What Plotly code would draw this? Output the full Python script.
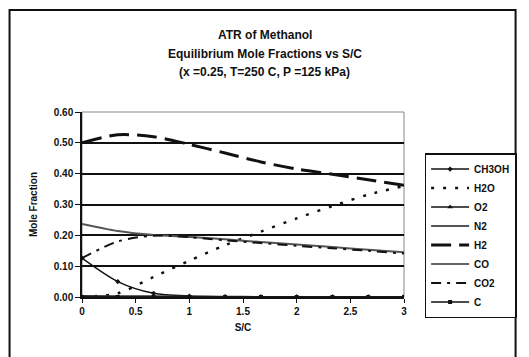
import plotly.graph_objects as go

# S/C ratio sample points
sc = [0, 0.333, 0.667, 1.0, 1.333, 1.667, 2.0, 2.333, 2.667, 3.0]

ch3oh = [0.126, 0.050, 0.012, 0.003, 0.001, 0.0005, 0.0003, 0.0002, 0.0001, 0.0001]
h2o   = [0.000, 0.012, 0.065, 0.118, 0.168, 0.212, 0.255, 0.295, 0.332, 0.360]
o2    = [0, 0, 0, 0, 0, 0, 0, 0, 0, 0]
n2    = [0.237, 0.214, 0.201, 0.195, 0.187, 0.178, 0.170, 0.162, 0.153, 0.145]
h2    = [0.500, 0.526, 0.520, 0.495, 0.467, 0.438, 0.415, 0.398, 0.380, 0.362]
co    = [0.004, 0.003, 0.003, 0.002, 0.002, 0.001, 0.001, 0.001, 0.001, 0.001]
co2   = [0.126, 0.180, 0.199, 0.194, 0.184, 0.175, 0.166, 0.158, 0.150, 0.141]
c     = [0, 0, 0, 0, 0, 0, 0, 0, 0, 0]

title_lines = ["ATR of Methanol",
               "Equilibrium Mole Fractions vs S/C",
               "(x =0.25, T=250 C, P =125 kPa)"]

FONT = "Liberation Sans, Arial, sans-serif"

fig = go.Figure()

def add(name, y, color, width, dash="solid", marker=None, msize=5):
    mode = "lines+markers" if marker else "lines"
    fig.add_trace(go.Scatter(
        x=sc, y=y, name=name, mode=mode,
        line=dict(color=color, width=width, dash=dash, shape="spline", smoothing=0.8),
        marker=dict(symbol=marker or "circle", size=msize, color=color),
    ))

add("CH3OH", ch3oh, "#111111", 1.5, marker="diamond", msize=4)
add("H2O", h2o, "#111111", 2.5, dash="3px,9px")
add("O2", o2, "#111111", 1.5, marker="triangle-up", msize=5)
add("N2", n2, "#555555", 2)
add("H2", h2, "#111111", 3, dash="20px,8px")
add("CO", co, "#333333", 1.5)
add("CO2", co2, "#111111", 2, dash="10px,6px,3px,6px")
add("C", c, "#111111", 1.5, marker="square", msize=4)

# plot area frame (gray) and outer chart border (black)
fig.add_shape(type="rect", xref="paper", yref="paper", x0=0, x1=1, y0=0, y1=1,
              line=dict(color="#888888", width=1), layer="below")
fig.add_shape(type="rect", xref="paper", yref="paper", x0=-0.225, x1=1.3465,
              y0=-0.36, y1=1.551, line=dict(color="#111111", width=2))

for i, (txt, yy) in enumerate(zip(title_lines, [1.416, 1.314, 1.214])):
    fig.add_annotation(text=txt, xref="paper", yref="paper", x=0.568, y=yy,
                       showarrow=False, xanchor="center", yanchor="middle",
                       font=dict(family=FONT, size=12, color="#111111", weight="bold"))

fig.update_layout(
    width=529, height=357,
    margin=dict(l=82, r=118, t=112, b=60),
    paper_bgcolor="white", plot_bgcolor="white",
    font=dict(family=FONT, size=10, color="#111111"),
    showlegend=True,
    legend=dict(x=1.064, y=0.778, xanchor="left", yanchor="top",
                bordercolor="#111111", borderwidth=1.5, bgcolor="white",
                font=dict(family=FONT, size=10, color="#111111", weight="bold"),
                itemwidth=38, tracegroupgap=0),
    xaxis=dict(range=[0, 3], dtick=0.5, showgrid=False, zeroline=False,
               showline=True, linecolor="#111111", linewidth=1.5,
               ticks="outside", ticklen=4, tickcolor="#111111",
               tickfont=dict(family=FONT, size=10, weight="bold"),
               title=dict(text="S/C", font=dict(family=FONT, size=10, weight="bold"), standoff=8)),
    yaxis=dict(range=[0, 0.6], dtick=0.1, tickformat=".2f",
               showgrid=True, gridcolor="#111111", gridwidth=1.5, zeroline=False,
               showline=True, linecolor="#111111", linewidth=1.5,
               ticks="outside", ticklen=5, tickcolor="#111111",
               tickfont=dict(family=FONT, size=10, weight="bold"),
               title=dict(text="Mole Fraction", font=dict(family=FONT, size=10, weight="bold"), standoff=14)),
)

fig.write_html("out.html")
